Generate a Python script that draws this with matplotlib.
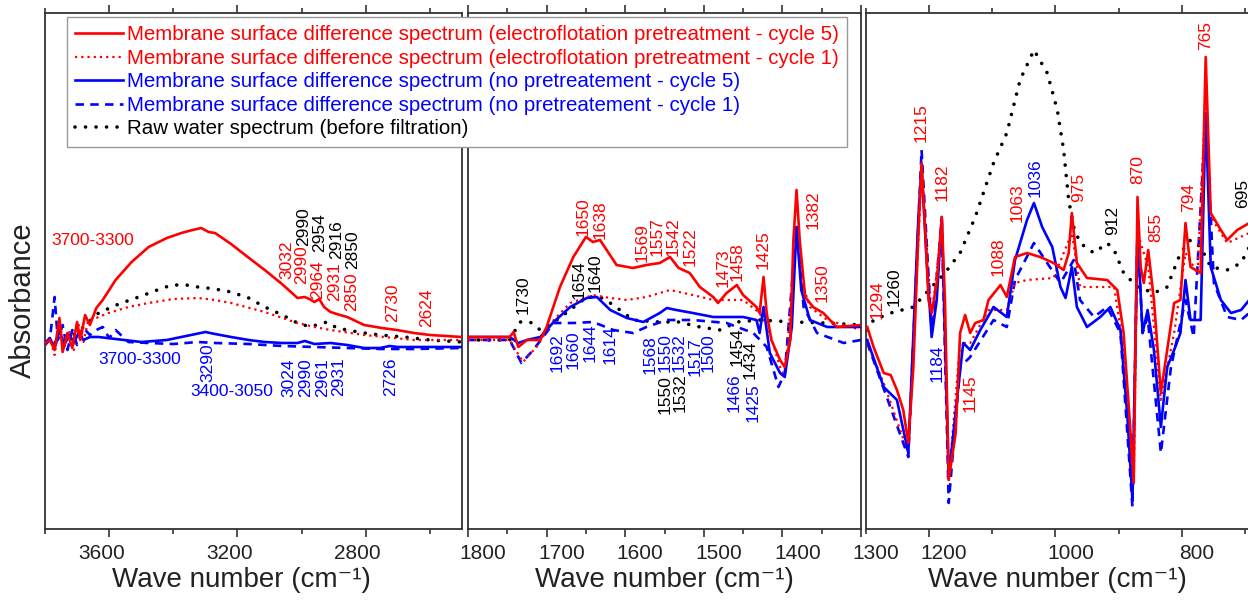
import matplotlib.pyplot as plt
from matplotlib.transforms import ScaledTranslation

plt.rcParams['font.family'] = ['Liberation Sans', 'DejaVu Sans']

RED = '#ff0000'
BLUE = '#0000ff'
BLACK = '#000000'

# ---- high wavenumber region (3800-2500 cm-1), absorbance in arbitrary units ----
ef5_hi_x = [3800, 3785, 3770, 3755, 3745, 3730, 3715, 3700, 3690, 3675, 3660, 3640, 3620, 3580, 3530,
            3477, 3420, 3375, 3340, 3313, 3290, 3270, 3220, 3168, 3115, 3065, 3030, 3013, 2990, 2970,
            2960, 2945, 2930, 2910, 2880, 2858, 2805, 2750, 2703, 2650, 2600, 2550, 2500]
ef5_hi_y = [1.86, 1.89, 1.79, 2.11, 1.77, 1.96, 1.81, 2.07, 1.89, 2.14, 2.04, 2.21, 2.29, 2.49, 2.67,
            2.82, 2.91, 2.96, 2.99, 3.01, 2.97, 2.96, 2.85, 2.72, 2.59, 2.46, 2.36, 2.31, 2.32, 2.29,
            2.27, 2.30, 2.22, 2.17, 2.14, 2.12, 2.04, 2.01, 1.99, 1.96, 1.94, 1.93, 1.92]
ef1_hi_x = [3800, 3785, 3770, 3755, 3740, 3725, 3710, 3695, 3680, 3665, 3640, 3602, 3540, 3477, 3400,
            3323, 3270, 3220, 3115, 3013, 2960, 2910, 2805, 2650, 2500]
ef1_hi_y = [1.84, 1.91, 1.74, 2.07, 1.81, 1.99, 1.79, 2.04, 1.87, 2.09, 2.11, 2.16, 2.22, 2.26, 2.30,
            2.31, 2.29, 2.26, 2.17, 2.06, 2.02, 1.99, 1.94, 1.89, 1.89]
np5_hi_x = [3800, 3785, 3770, 3755, 3740, 3725, 3710, 3695, 3680, 3660, 3633, 3580, 3500, 3420, 3375,
            3330, 3300, 3270, 3220, 3165, 3115, 3060, 3013, 2990, 2960, 2910, 2858, 2805, 2755, 2726,
            2700, 2600, 2500]
np5_hi_y = [1.86, 1.91, 1.81, 1.99, 1.84, 1.94, 1.87, 1.96, 1.89, 1.92, 1.92, 1.90, 1.87, 1.89, 1.92,
            1.95, 1.97, 1.95, 1.92, 1.89, 1.87, 1.86, 1.86, 1.88, 1.85, 1.86, 1.84, 1.81, 1.81, 1.83,
            1.82, 1.82, 1.82]
np1_hi_x = [3800, 3785, 3770, 3760, 3745, 3730, 3715, 3700, 3680, 3660, 3640, 3620, 3600, 3580, 3540,
            3477, 3400, 3323, 3270, 3165, 3060, 2960, 2858, 2755, 2650, 2500]
np1_hi_y = [1.84, 1.89, 2.32, 1.89, 2.04, 1.79, 1.99, 1.84, 2.01, 1.94, 1.99, 2.02, 1.91, 1.99, 1.87,
            1.86, 1.85, 1.87, 1.86, 1.85, 1.83, 1.82, 1.81, 1.80, 1.80, 1.81]
raw_hi_x = [3800, 3780, 3735, 3690, 3633, 3570, 3508, 3450, 3405, 3360, 3323, 3270, 3220, 3165, 3115,
            3060, 3013, 2972, 2945, 2920, 2890, 2858, 2805, 2755, 2680, 2600, 2500]
raw_hi_y = [1.85, 1.86, 1.89, 1.99, 2.16, 2.25, 2.32, 2.39, 2.44, 2.44, 2.42, 2.40, 2.37, 2.31, 2.22,
            2.14, 2.06, 2.02, 2.05, 2.07, 2.01, 1.99, 1.96, 1.94, 1.92, 1.89, 1.87]

# ---- middle region (1800-1300 cm-1) ----
ef5_mid_x = [1800, 1747, 1742, 1736, 1725, 1708, 1700, 1683, 1666, 1650, 1641, 1632, 1611, 1590, 1573,
             1556, 1543, 1532, 1518, 1505, 1488, 1482, 1471, 1458, 1450, 1433, 1429, 1424, 1420, 1414,
             1403, 1397, 1390, 1386, 1382, 1378, 1371, 1361, 1348, 1331, 1300]
ef5_mid_y = [1.92, 1.92, 1.97, 1.82, 1.89, 1.89, 2.02, 2.42, 2.72, 2.92, 2.87, 2.89, 2.64, 2.61, 2.64,
             2.66, 2.72, 2.61, 2.56, 2.42, 2.32, 2.26, 2.36, 2.44, 2.34, 2.22, 2.16, 2.52, 2.16, 1.89,
             1.69, 1.62, 1.89, 2.89, 3.39, 2.89, 2.32, 2.22, 2.16, 2.02, 2.04]
ef1_mid_x = [1800, 1747, 1730, 1713, 1691, 1670, 1641, 1619, 1598, 1573, 1543, 1514, 1488, 1450, 1429,
             1416, 1403, 1397, 1386, 1382, 1376, 1365, 1343, 1300]
ef1_mid_y = [1.89, 1.89, 1.67, 1.82, 2.09, 2.26, 2.34, 2.31, 2.29, 2.32, 2.39, 2.34, 2.29, 2.29, 2.16,
             1.96, 1.62, 1.52, 2.56, 2.92, 2.49, 2.22, 2.09, 1.99]
np5_mid_x = [1800, 1747, 1736, 1725, 1708, 1691, 1670, 1649, 1636, 1619, 1598, 1577, 1556, 1547, 1535,
             1514, 1488, 1450, 1433, 1429, 1424, 1416, 1403, 1397, 1388, 1382, 1376, 1365, 1343, 1300]
np5_mid_y = [1.92, 1.92, 1.86, 1.89, 1.92, 2.07, 2.22, 2.31, 2.32, 2.19, 2.11, 2.07, 2.16, 2.21, 2.19,
             2.16, 2.12, 2.12, 2.09, 1.96, 2.22, 1.76, 1.56, 1.52, 2.02, 3.02, 2.39, 2.09, 2.02, 2.02]
np1_mid_x = [1800, 1747, 1732, 1717, 1691, 1666, 1641, 1615, 1590, 1573, 1547, 1514, 1471, 1437, 1420,
             1405, 1397, 1382, 1373, 1356, 1322, 1300]
np1_mid_y = [1.89, 1.89, 1.66, 1.79, 2.06, 2.06, 2.07, 1.99, 1.96, 2.02, 2.09, 2.09, 2.06, 1.96, 1.82,
             1.42, 1.56, 3.02, 2.22, 1.96, 1.86, 1.89]
raw_mid_x = [1800, 1747, 1734, 1721, 1708, 1687, 1670, 1649, 1632, 1615, 1590, 1556, 1532, 1505, 1479,
             1458, 1429, 1386, 1343, 1300]
raw_mid_y = [1.89, 1.89, 2.07, 2.07, 1.99, 2.09, 2.19, 2.32, 2.32, 2.24, 2.09, 2.07, 2.07, 2.02, 1.99,
             2.07, 2.09, 2.07, 2.06, 2.04]

# ---- low region (1300-695 cm-1) ----
ef5_lo_x = [1298, 1288, 1272, 1261, 1251, 1241, 1233, 1225, 1217, 1212, 1206, 1201, 1196, 1188, 1180,
            1175, 1169, 1158, 1151, 1143, 1135, 1127, 1114, 1106, 1087, 1077, 1064, 1045, 1024, 1003,
            987, 979, 974, 966, 950, 918, 902, 892, 881, 876, 870, 865, 860, 853, 844,
            833, 823, 812, 802, 794, 786, 770, 762, 754, 738, 728, 712, 693]
ef5_lo_y = [2.02, 1.82, 1.56, 1.54, 1.39, 1.19, 0.86, 1.62, 2.96, 3.66, 2.96, 2.29, 2.16, 2.46, 3.12,
            2.29, 0.49, 0.96, 1.96, 2.14, 1.96, 2.06, 2.09, 2.29, 2.44, 2.32, 2.72, 2.76, 2.72, 2.66,
            2.59, 2.76, 3.16, 2.66, 2.51, 2.49, 2.39, 1.96, 0.96, 0.46, 3.32, 2.62, 2.46, 2.79, 2.29,
            1.36, 1.79, 2.26, 2.29, 3.06, 2.62, 2.56, 4.72, 3.16, 2.99, 2.89, 2.99, 3.06]
ef1_lo_x = [1298, 1272, 1233, 1212, 1196, 1180, 1169, 1151, 1135, 1106, 1077, 1064, 1045, 1003, 974,
            961, 907, 892, 876, 870, 853, 833, 812, 794, 775, 762, 754, 728, 693]
ef1_lo_y = [1.86, 1.46, 0.76, 3.56, 2.12, 3.02, 0.49, 1.86, 1.86, 2.19, 2.19, 2.46, 2.49, 2.51, 2.96,
            2.42, 2.42, 1.79, 0.46, 2.96, 2.62, 1.29, 1.96, 2.76, 2.56, 4.36, 3.12, 2.86, 2.96]
np5_lo_x = [1298, 1272, 1251, 1233, 1217, 1212, 1204, 1196, 1188, 1180, 1169, 1156, 1146, 1135, 1119,
            1098, 1077, 1064, 1045, 1034, 1021, 1005, 992, 984, 974, 966, 950, 929, 913, 897,
            886, 878, 870, 862, 854, 844, 833, 823, 812, 802, 794, 786, 770, 762, 754,
            738, 722, 706, 693]
np5_lo_y = [1.89, 1.42, 1.29, 0.76, 3.12, 3.62, 2.69, 1.92, 2.29, 3.12, 0.52, 1.29, 1.86, 1.79, 1.99,
            2.22, 2.12, 2.69, 3.09, 3.26, 3.02, 2.82, 2.42, 2.31, 2.62, 2.22, 2.02, 2.12, 2.22, 1.99,
            1.12, 0.29, 2.99, 1.96, 2.19, 1.79, 1.02, 1.62, 1.79, 1.96, 2.49, 2.09, 2.09, 4.16, 2.62,
            2.29, 2.16, 2.19, 2.29]
np1_lo_x = [1298, 1233, 1212, 1196, 1180, 1169, 1151, 1135, 1098, 1077, 1064, 1034, 1013, 992, 971,
            961, 939, 918, 897, 878, 870, 862, 854, 833, 817, 794, 781, 762, 749, 728, 706, 693]
np1_lo_y = [1.86, 0.72, 3.79, 1.96, 3.09, 0.26, 1.62, 1.72, 2.09, 2.02, 2.49, 2.86, 2.66, 2.46, 2.69,
            2.29, 2.12, 2.22, 1.96, 0.22, 2.99, 1.96, 2.12, 0.76, 1.62, 2.29, 1.92, 4.16, 2.46, 2.12,
            2.09, 2.16]
raw_lo_x = [1298, 1288, 1261, 1225, 1196, 1175, 1151, 1127, 1098, 1077, 1056, 1034, 1013, 997, 987,
            979, 971, 961, 939, 918, 907, 892, 870, 844, 823, 802, 786, 770, 754, 728, 706, 693]
raw_lo_y = [1.99, 2.09, 2.16, 2.22, 2.42, 2.56, 2.76, 3.12, 3.66, 3.96, 4.49, 4.79, 4.56, 4.19, 3.79,
            3.29, 3.02, 2.86, 2.76, 2.86, 2.79, 2.56, 2.42, 2.36, 2.42, 2.76, 2.89, 2.82, 2.62, 2.59,
            2.66, 2.82]

# band assignments: (text, wavenumber, absorbance, colour, rotation)
hi_labels = [("3700-3300", 3650, 2.89, RED, 0), ("3032", 3046, 2.69, RED, 90),
             ("2990", 2999, 2.64, RED, 90), ("2964", 2949, 2.49, RED, 90),
             ("2931", 2896, 2.47, RED, 90), ("2850", 2843, 2.37, RED, 90),
             ("2730", 2715, 2.26, RED, 90), ("2624", 2609, 2.21, RED, 90),
             ("2990", 2995, 3.02, BLACK, 90), ("2954", 2943, 2.96, BLACK, 90),
             ("2916", 2890, 2.89, BLACK, 90), ("2850", 2840, 2.79, BLACK, 90),
             ("3700-3300", 3504, 1.69, BLUE, 0), ("3290", 3292, 1.66, BLUE, 90),
             ("3400-3050", 3217, 1.37, BLUE, 0), ("3024", 3039, 1.51, BLUE, 90),
             ("2990", 2989, 1.51, BLUE, 90), ("2961", 2936, 1.51, BLUE, 90),
             ("2931", 2886, 1.52, BLUE, 90), ("2726", 2724, 1.52, BLUE, 90)]
mid_labels = [("1730", 1730, 2.34, BLACK), ("1654", 1658, 2.49, BLACK), ("1640", 1638, 2.56, BLACK),
              ("1650", 1653, 3.12, RED), ("1638", 1632, 3.09, RED), ("1569", 1579, 2.86, RED),
              ("1557", 1560, 2.92, RED), ("1542", 1539, 2.92, RED), ("1522", 1518, 2.82, RED),
              ("1473", 1475, 2.61, RED), ("1458", 1458, 2.67, RED), ("1425", 1424, 2.79, RED),
              ("1382", 1361, 3.19, RED), ("1350", 1350, 2.46, RED),
              ("1692", 1687, 1.76, BLUE), ("1660", 1666, 1.79, BLUE), ("1644", 1645, 1.86, BLUE),
              ("1614", 1619, 1.84, BLUE), ("1568", 1568, 1.74, BLUE), ("1550", 1549, 1.76, BLUE),
              ("1532", 1532, 1.76, BLUE), ("1517", 1511, 1.72, BLUE), ("1500", 1494, 1.76, BLUE),
              ("1466", 1462, 1.36, BLUE), ("1425", 1437, 1.26, BLUE),
              ("1550", 1549, 1.34, BLACK), ("1532", 1530, 1.36, BLACK),
              ("1454", 1458, 1.82, BLACK), ("1434", 1441, 1.69, BLACK)]
lo_labels = [("1294", 1283, 2.29, RED), ("1260", 1255, 2.42, BLACK), ("1215", 1212, 4.06, RED),
             ("1182", 1180, 3.47, RED), ("1184", 1188, 1.66, BLUE), ("1145", 1135, 1.36, RED),
             ("1088", 1090, 2.72, RED), ("1063", 1061, 3.26, RED), ("1036", 1032, 3.51, BLUE),
             ("975", 963, 3.42, RED), ("912", 910, 3.09, BLACK), ("870", 870, 3.59, RED),
             ("855", 841, 3.02, RED), ("794", 789, 3.32, RED), ("765", 762, 4.94, RED),
             ("695", 704, 3.36, BLACK)]

W, H = 1248, 600
fig = plt.figure(figsize=(W / 100, H / 100), dpi=100)
bottom, height = (600 - 529) / H, (529 - 13) / H
ax1 = fig.add_axes([45 / W, bottom, 417 / W, height])
ax2 = fig.add_axes([468 / W, bottom, 393 / W, height])
ax3 = fig.add_axes([866 / W, bottom, 382 / W, height])


def draw(ax, ef5, ef1, np5, np1, raw):
    ax.plot(*raw, color=BLACK, lw=2.6, ls=(0, (0.01, 2.9)), dash_capstyle='round',
            label='Raw water spectrum (before filtration)', zorder=2)
    ax.plot(*np1, color=BLUE, lw=1.9, ls=(0, (3.2, 2.4)),
            label='Membrane surface difference spectrum (no pretreatement - cycle 1)', zorder=3)
    ax.plot(*np5, color=BLUE, lw=1.9,
            label='Membrane surface difference spectrum (no pretreatement - cycle 5)', zorder=4)
    ax.plot(*ef1, color=RED, lw=1.6, ls=(0, (1, 1.8)),
            label='Membrane surface difference spectrum (electroflotation pretreatment - cycle 1)', zorder=3)
    ax.plot(*ef5, color=RED, lw=1.9,
            label='Membrane surface difference spectrum (electroflotation pretreatment - cycle 5)', zorder=5)


draw(ax1, (ef5_hi_x, ef5_hi_y), (ef1_hi_x, ef1_hi_y), (np5_hi_x, np5_hi_y),
     (np1_hi_x, np1_hi_y), (raw_hi_x, raw_hi_y))
draw(ax2, (ef5_mid_x, ef5_mid_y), (ef1_mid_x, ef1_mid_y), (np5_mid_x, np5_mid_y),
     (np1_mid_x, np1_mid_y), (raw_mid_x, raw_mid_y))
draw(ax3, (ef5_lo_x, ef5_lo_y), (ef1_lo_x, ef1_lo_y), (np5_lo_x, np5_lo_y),
     (np1_lo_x, np1_lo_y), (raw_lo_x, raw_lo_y))

for s, x, y, c, r in hi_labels:
    ax1.text(x, y, s, color=c, rotation=r, ha='center', va='center', fontsize=12.5)
for s, x, y, c in mid_labels:
    ax2.text(x, y, s, color=c, rotation=90, ha='center', va='center', fontsize=12.5)
for s, x, y, c in lo_labels:
    ax3.text(x, y, s, color=c, rotation=90, ha='center', va='center', fontsize=12.5)

ax1.set_xlim(3800, 2500)
ax1.set_xticks([3600, 3200, 2800])
ax1.set_xticks([3800, 3400, 3000, 2600], minor=True)
ax2.set_xlim(1800, 1300)
ax2.set_xticks([1800, 1700, 1600, 1500, 1400, 1300])
ax2.set_xticks([1750, 1650, 1550, 1450, 1350], minor=True)
ax3.set_xlim(1300, 695)
ax3.set_xticks([1200, 1000, 800])
ax3.set_xticks([1300, 1100, 900, 700], minor=True)
ax3.spines['right'].set_visible(False)

# tick labels sit a little off their ticks in the original
shifts = {ax1: -8, ax2: 15, ax3: 15}
for ax in (ax1, ax2, ax3):
    ax.set_ylim(0, 5.16)
    ax.set_yticks([])
    for sp in ax.spines.values():
        sp.set_linewidth(1.3)
        sp.set_color('#333333')
    ax.tick_params(axis='x', which='both', top=True, bottom=True, direction='out',
                   width=1.2, labelsize=15, pad=5, colors='#333333', labelcolor='#222222')
    ax.tick_params(axis='x', which='major', length=6)
    ax.tick_params(axis='x', which='minor', length=3.5)
    ax.set_xlabel('Wave number (cm\u207b\u00b9)', fontsize=20, labelpad=3, color='#222222')
    off = ScaledTranslation(shifts[ax] / 100, 0, fig.dpi_scale_trans)
    for lbl in ax.get_xticklabels():
        lbl.set_transform(lbl.get_transform() + off)

ax1.xaxis.label.set_x(0.5 - 12 / 417)
ax1.set_ylabel('Absorbance', fontsize=21, labelpad=6, color='#222222')
ax1.yaxis.label.set_y(0.5 - 29 / 516)

handles, labels = ax1.get_legend_handles_labels()
order = [4, 3, 2, 1, 0]
fig.legend([handles[i] for i in order], [labels[i] for i in order],
           loc='upper left', bbox_to_anchor=(67 / W, 1 - 17 / H), borderaxespad=0,
           fontsize=14.8, labelcolor='linecolor', fancybox=False, framealpha=1,
           edgecolor='#999999', handlelength=2.3, handletextpad=0.2,
           borderpad=0.4, labelspacing=0.22)

fig.savefig('out.png', dpi=100)
